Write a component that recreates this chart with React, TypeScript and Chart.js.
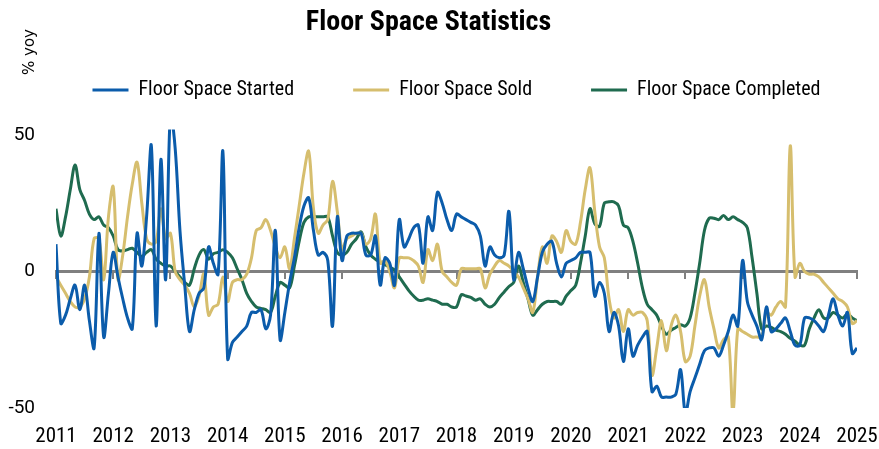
import React, { useEffect, useRef } from 'react';
import { Chart, registerables } from 'chart.js';

Chart.register(...registerables);

// ---- Data (monthly, starting Jan 2011) ----
const startYear = 2011;
const endYear = 2025;
const seriesNames = ['Floor Space Started', 'Floor Space Sold', 'Floor Space Completed'];
const yTickValues = [-50, 0, 50];
const titleText = 'Floor Space Statistics';
const yAxisLabel = '% yoy';

const started = [
  10, -19, -16, -10, -5, -14, -5, -18, -28, 14,
  -24, -8, 7, -2, -10, -17, -21, 14, 2, 20,
  46, -20, 41, -3, 58, 45, 15, -5, -22, -14,
  -8, -6, 9, 3, -1, 44, -32, -26, -24, -22,
  -20, -15, -15, -14, -21, -16, 15, -25, -15, -4,
  5, 16, 24, 27, 15, 6, 7, 4, -20, 20,
  4, 13, 14, 14, 14, 6, 6, 13, -5, 5,
  3, -5, 19, 9, 12, 16, 17, 3, 20, 15,
  29, 25, 19, 15, 21, 20, 19, 18, 17, 13,
  2, 9, 6, 5, 6, 22, -3, 7, 1, -6,
  -11, -2, 7, 10, 11, 3, -2, 3, 4, 5,
  7, 7, 7, -9, -4, -8, -22, -15, -20, -33,
  -21, -31, -27, -24, -22, -44, -42, -46, -46, -46,
  -45, -36, -52, -44, -39, -34, -29, -28, -28, -31,
  -27, -22, -16, -20, 4, -11, -16, -20, -25, -13,
  -22, -21, -19, -17, -22, -27, -27, -17, -17, -18,
  -20, -22, -16, -10, -16, -20, -15, -30, -28,
];

const sold = [
  -2, -5, -8, -11, -13, -13, -10, -2, 12, 12,
  -3, 20, 31, -3, 6, 20, 32, 40, 25, 12,
  10, 11, 23, 12, 14, 0, -3, -5, -8, -13,
  -9, -1, -16, -13, -12, -2, -11, -4, -3, -3,
  -1, 5, 15, 16, 19, 15, 9, 5, 9, 1,
  12, 24, 36, 44, 23, 14, 17, 19, 33, 22,
  8, 12, 13, 14, 14, 10, 12, 21, 3, 4,
  0, -6, 5, 5, 5, 4, 2, -4, 8, 4,
  10, 0, -2, -4, -5, 1, 1, 1, 1, 1,
  -6, -1, 2, 4, 3, 2, 0, -2, -6, -10,
  -15, -2, 9, 3, 13, 11, 7, 15, 11, 10,
  18, 30, 38, 22, 9, 5, -10, -17, -14, -22,
  -14, -16, -15, -15, -18, -38, -28, -18, -29, -20,
  -16, -22, -33, -31, -20, -9, -3, -13, -21, -28,
  -25, -24, -52, -21, -22, -23, -24, -24, -24, -15,
  -16, -13, -11, -13, 46, -2, 3, 0, -1, -1,
  -2, -4, -6, -8, -10, -11, -13, -19, -18,
];

const completed = [
  23, 13, 20, 30, 39, 30, 26, 21, 19, 20,
  17, 16, 13, 8, 7.5, 8, 8.5, 7, 5.5, 7,
  8, 4.5, 3, 2, 2, 0, -2, -4, -5, 1,
  6, 8, 4.5, 6.5, 7, 8, 7, 5, 1, -3,
  -8, -11, -13, -13.5, -14, -15, -9, -4, -5, -6,
  2, 11, 18, 20, 20, 20, 20, 20, 13, 7,
  6, 7, 10, 12, 14.5, 9, 6, 4.5, 3.5, 2.5,
  1.5, 0.5, -2, -4.5, -7, -9, -10.5, -10.5, -10, -10.5,
  -11, -12, -12, -13, -13, -8.5, -9, -9.5, -10.5, -10,
  -12, -13, -12, -9.5, -7.5, -5.5, -4, 2, -4, -10,
  -16, -14, -12, -11, -11, -11, -12, -9, -7, -5,
  3, 13, 23, 17.5, 16.5, 25, 25.5, 25.5, 24, 17,
  16, 11, 3, -6, -12, -14, -16, -20, -23, -21.5,
  -20.5, -19.5, -20, -17, -8, 3, 15, 19.5, 19.5, 19,
  20.5, 19, 20, 19, 18, 16, 5, -8, -21, -20,
  -20.5, -21.5, -22, -23, -24.5, -25.5, -27, -27, -21, -17,
  -14, -17, -17, -15, -16, -17, -15.5, -17, -18,
];

const seriesValues = [started, sold, completed];
const seriesColors = ['#0b5cab', '#d6be6e', '#1f6b4f'];

const NARROW = "'Liberation Sans Narrow', 'Roboto Condensed', 'DejaVu Sans Condensed', Roboto, sans-serif";

const toPoints = (vals: number[]) => vals.map((v, i) => ({ x: startYear + i / 12, y: v }));

const legendFitPlugin = {
  id: 'legendFit',
  beforeInit(chart: any) {
    const legend = chart.legend;
    if (!legend) return;
    const orig = legend.fit;
    legend.fit = function () {
      const mw = this.maxWidth;
      this.maxWidth = 3000;
      orig.call(this);
      this.maxWidth = mw;
      this.width = mw;
      this.height = 108.5;
    };
  },
  afterLayout(chart: any) {
    const legend = chart.legend;
    const area = chart.chartArea;
    if (!legend || !area) return;
    // centre the single legend row on the plot area, without wrapping
    const center = (area.left + area.right) / 2;
    legend.left = 0;
    legend.right = center * 2;
    legend.width = legend.right - legend.left;
  },
};

const yoyLabelPlugin = {
  id: 'yoyLabel',
  afterDraw(chart: any) {
    const ctx = chart.ctx;
    ctx.save();
    ctx.translate(30, 52);
    ctx.rotate(-Math.PI / 2);
    ctx.font = "15px 'DejaVu Sans', sans-serif";
    ctx.fillStyle = '#000';
    ctx.textAlign = 'center';
    ctx.textBaseline = 'middle';
    ctx.fillText(yAxisLabel, 0, 0);
    ctx.restore();
  },
};

export default function App() {
  const canvasRef = useRef<HTMLCanvasElement | null>(null);

  useEffect(() => {
    if (!canvasRef.current) return;
    const chart = new Chart(canvasRef.current, {
      type: 'line',
      data: {
        datasets: seriesNames.map((name, i) => ({
          label: name,
          data: toPoints(seriesValues[i]),
          borderColor: seriesColors[i],
          backgroundColor: seriesColors[i],
          borderWidth: 3,
          pointRadius: 0,
          tension: 0.35,
          fill: false,
          xAxisID: 'x',
          yAxisID: 'y',
        })),
      },
      options: {
        responsive: false,
        animation: false,
        layout: { padding: { top: 0, left: 0, right: 22, bottom: 0 } },
        plugins: {
          title: {
            display: true,
            text: titleText,
            color: '#000',
            font: { family: NARROW, size: 28, weight: 'bold' },
            padding: { top: 6, bottom: -18.6 },
          },
          legend: {
            display: true,
            position: 'top',
            fullSize: false,
            labels: {
              usePointStyle: true,
              pointStyle: 'line',
              pointStyleWidth: 36,
              padding: 59,
              color: '#000',
              font: { family: NARROW, size: 20 },
            },
          },
          tooltip: { enabled: false },
        },
        scales: {
          x: {
            type: 'linear',
            min: startYear,
            max: endYear,
            position: 'bottom',
            grid: { display: false, drawTicks: true, tickLength: 16.4 },
            border: { display: false },
            ticks: {
              stepSize: 1,
              autoSkip: false,
              maxRotation: 0,
              padding: 0,
              color: '#000',
              font: { family: NARROW, size: 21 },
              callback: (v: any) => String(v),
            },
            afterFit: (s: any) => {
              s.height = 41;
            },
          },
          x2: {
            type: 'linear',
            min: startYear,
            max: endYear,
            position: { y: 0 },
            grid: {
              display: true,
              drawOnChartArea: false,
              drawTicks: true,
              tickLength: 6,
              color: '#808080',
              lineWidth: 2,
            },
            border: { display: true, color: '#808080', width: 3 },
            ticks: { display: false, stepSize: 1 },
          },
          y: {
            min: -50,
            max: 52,
            afterBuildTicks: (s: any) => {
              s.ticks = yTickValues.map((v) => ({ value: v }));
            },
            grid: { display: false, drawTicks: false },
            border: { display: false },
            ticks: {
              padding: 21,
              color: '#000',
              font: { family: 'Roboto, sans-serif', size: 19 },
            },
            afterFit: (s: any) => {
              s.width = 56;
            },
          },
        },
      } as any,
      plugins: [legendFitPlugin, yoyLabelPlugin],
    });
    return () => chart.destroy();
  }, []);

  return (
    <div style={{ position: 'fixed', left: 0, top: 0, width: 879, height: 449, background: '#fff' }}>
      <canvas ref={canvasRef} width={879} height={449} style={{ display: 'block' }} />
    </div>
  );
}
